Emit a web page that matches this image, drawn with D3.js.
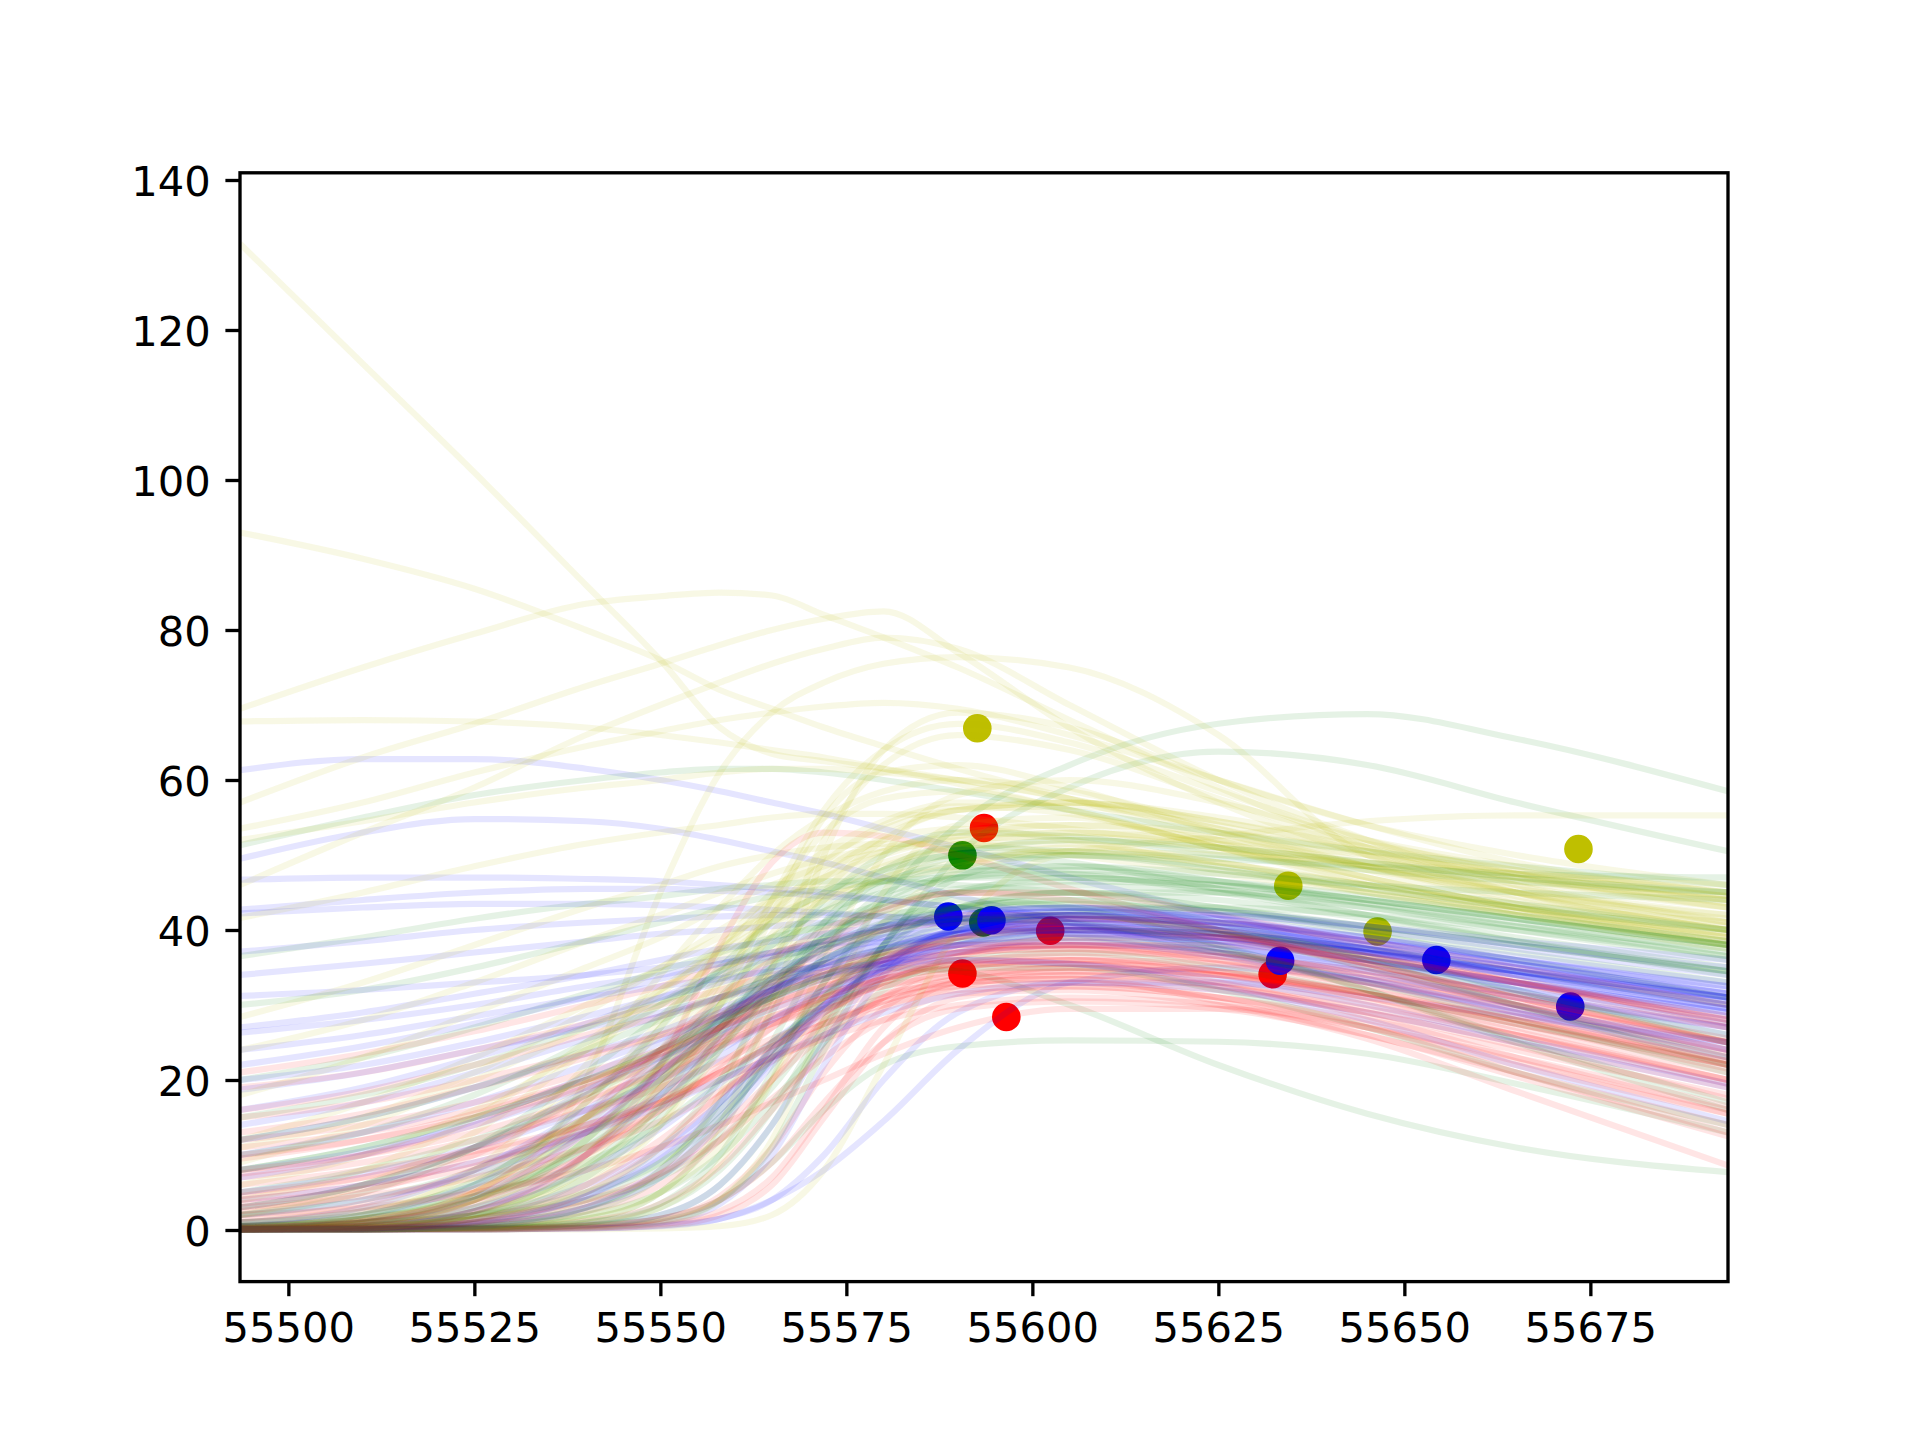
<!DOCTYPE html>
<html><head><meta charset="utf-8">
<script src="https://cdn.jsdelivr.net/npm/d3@7"></script>
<style>html,body{margin:0;padding:0;background:#fff;} svg{display:block;}</style>
</head><body>
<script>
// Shared sample days (MJD) for every model curve
const sampleDays = [55493.5, 55510, 55525, 55540, 55550, 55558, 55565, 55572, 55580, 55590, 55605, 55625, 55645, 55665, 55693.5];

const xTicks = [55500, 55525, 55550, 55575, 55600, 55625, 55650, 55675];
const yTicks = [0, 20, 40, 60, 80, 100, 120, 140];

// Observations per band
const redObsDays   = [55590.6, 55593.5, 55596.5, 55602.4, 55632.3];
const redObsFlux   = [34.2, 53.6, 28.4, 39.9, 34.1];
const blueObsDays  = [55588.7, 55594.5, 55633.3, 55654.3, 55672.3];
const blueObsFlux  = [41.8, 41.3, 35.9, 36.0, 29.8];
const greenObsDays = [55590.6, 55593.4];
const greenObsFlux = [49.96, 41.0];
const yellowObsDays = [55592.6, 55634.4, 55646.4, 55673.4];
const yellowObsFlux = [66.9, 45.9, 39.8, 50.8];

// Model curve samples (flux at sampleDays)
const redCurves = [
  [21, 23.5, 26.5, 30, 32.5, 35, 37, 38.5, 40, 41, 41.5, 40, 37, 33, 27],
  [19, 21, 24, 27.5, 30, 32, 34, 35.5, 37, 38, 38.5, 37, 34, 30, 24],
  [16, 18.5, 22, 26, 28.5, 31, 33, 34.5, 36, 37.5, 38, 36.5, 33.5, 29.5, 23.5],
  [13, 15.5, 19, 23, 26, 29, 31.5, 33.5, 35.5, 37, 37.5, 36, 33, 29, 23],
  [11, 13, 16, 20, 23, 26, 28.5, 30.5, 32.5, 34, 35, 34, 31.5, 28, 22.5],
  [9.5, 12, 15.5, 20, 23.5, 27, 30, 32.5, 35, 37, 38, 37, 34, 30.5, 25],
  [7, 9, 12, 16, 19, 22.5, 25.5, 28, 31, 33.5, 35, 34, 31, 27, 21],
  [5, 7, 10, 14, 17.5, 21, 24.5, 27.5, 30.5, 33, 34.5, 34, 31.5, 28, 22],
  [3, 4.5, 7, 11, 14.5, 18.5, 22.5, 26, 29.5, 32.5, 34, 33, 30, 26, 20],
  [0.1, 0.2, 0.7, 2.5, 6, 12, 20, 28, 34, 37, 37.5, 35.5, 32, 28, 22],
  [0.1, 0.1, 0.2, 0.6, 1.5, 4.5, 11, 21, 29.5, 33.5, 34, 32.5, 29.5, 26, 20],
  [0.1, 0.1, 0.1, 0.2, 0.6, 2, 6, 15, 25, 31, 32.5, 31, 28, 24, 18],
  [0.2, 0.6, 2.5, 10, 22, 38, 49, 53, 52.5, 50, 45.5, 40, 35.5, 31, 25.5],
  [0.3, 1, 3.5, 10, 17, 25, 32, 38, 42.5, 45, 45, 42, 38, 33.5, 27.5],
  [1, 2.5, 5.5, 11, 16, 21.5, 27, 32, 36, 39, 40.5, 39, 35.5, 31, 25],
  [0.1, 0.1, 0.3, 1.2, 3.5, 8.5, 16, 24, 31, 35, 36, 34, 30.5, 26, 19.5],
  [4, 6, 9, 13.5, 17, 21, 24.5, 27.5, 30, 32, 32.5, 31, 27.5, 22.5, 15.5],
  [2, 3, 5, 8, 11, 14, 17, 20, 23.5, 27, 29.5, 29.5, 27, 23, 16.5],
  [0.1, 0.1, 0.2, 0.5, 1.5, 4, 9, 17, 25, 29.5, 30.5, 29.5, 26, 20.5, 12.5],
  [6, 8, 10.5, 14, 17, 20, 23, 25.5, 28, 30, 31, 30, 27, 21, 13],
  [0.2, 0.5, 1.5, 4, 7.5, 12, 17.5, 23, 28, 31.5, 32, 30, 25.5, 18.5, 8.6],
  [12, 14, 17, 21, 24, 27, 29.5, 31.5, 33.5, 35, 36, 35.5, 33, 30, 25],
  [8, 10, 13, 17.5, 21, 24.5, 27.5, 30, 32.5, 34.5, 35.5, 34.5, 31.5, 27.5, 21.5],
  [0.1, 0.3, 1, 3.5, 7.5, 13.5, 20, 26, 31, 34, 34.5, 32.5, 29, 24.5, 17.5],
  [15, 17, 20, 23.5, 26, 28.5, 30.5, 32.5, 34.5, 36.5, 38, 38, 36, 33, 28.5],
  [3.5, 5.5, 8.5, 13, 17, 21, 25, 29, 33, 36.5, 39, 39, 36.5, 33, 28],
  [0.1, 0.1, 0.1, 0.3, 0.8, 2.5, 7, 16, 27, 33, 33.5, 30.5, 26, 21, 14],
  [10, 12, 15, 19, 22, 25, 27.5, 29.5, 31.5, 33, 33.5, 32, 29, 25, 19],
  [0.5, 1.5, 4, 10, 16, 22, 27, 31, 34, 36, 36.5, 34.5, 31, 26.5, 20],
  [1.5, 3.5, 8, 15, 20, 24.5, 28, 31, 33.5, 35.5, 36, 34.5, 31.5, 27.5, 22],
  [0.2, 1, 4, 13, 21, 27, 31, 34, 36.5, 38, 38, 36, 32.5, 28.5, 22.5],
  [0.1, 0.5, 2.5, 10, 19, 27, 33, 37, 40, 42, 42, 39.5, 35.5, 31, 25],
  [4.5, 7, 11, 17, 21.5, 25.5, 28.5, 31, 33.5, 35.5, 37, 36.5, 34.5, 31.5, 27],
  [0.3, 1.2, 5, 15, 24, 31, 36, 40, 43, 45, 44, 40, 35, 30, 24],
  [2.5, 5, 10, 18, 24, 28.5, 32, 34.5, 37, 39, 40, 39, 36.5, 33, 28],
  [0.1, 0.3, 1.5, 6, 12, 18, 23, 27, 30.5, 32.5, 33, 31, 27, 22, 15.5],
  [7.5, 10, 14, 19.5, 23.5, 27, 30, 33, 36, 39, 41.5, 41, 38.5, 35, 30],
  [0.1, 0.2, 1, 5, 11, 18, 24, 29, 33, 35.5, 35.5, 33, 28.5, 23, 16]
];

const blueCurves = [
  [61.3, 62.8, 62.8, 61.5, 60, 58.5, 57, 55.5, 53.5, 51, 47, 42, 37, 32, 26],
  [49.5, 53, 54.8, 54.5, 53.5, 52, 50.5, 49, 47, 44.5, 41, 37, 33, 29, 24],
  [46.7, 47, 47, 46.8, 46.5, 46, 45.5, 45, 44, 43, 41, 38, 35, 32, 27.5],
  [42.7, 44, 45, 45.5, 45.5, 45.2, 45, 44.5, 44, 43, 41.5, 39, 36, 33, 29],
  [42.2, 43, 43.5, 43.5, 43.3, 43, 42.7, 42.3, 41.8, 41, 39.5, 37, 34.5, 31.5, 27],
  [37.1, 38.5, 40, 41, 41.5, 41.8, 42, 42, 41.8, 41.5, 40.5, 38.5, 36, 33, 28.5],
  [34, 35.5, 37, 38.5, 39.5, 40, 40.5, 41, 41, 41, 40.5, 39, 37, 34.5, 31],
  [31.2, 32, 33, 34, 35, 36, 37, 38, 39, 40, 40, 38.5, 36, 33, 29],
  [26.3, 28, 30, 32.5, 34, 35.5, 36.5, 37.5, 38.5, 39.5, 40, 39, 37, 34.5, 31],
  [18.7, 21, 24, 27, 29, 31, 32.5, 34, 35.5, 37, 38, 37.5, 35.5, 33, 29.5],
  [10, 13, 17, 22, 25.5, 28.5, 31, 33.5, 36, 38.5, 40, 39.5, 37.5, 35, 31.5],
  [5, 7.5, 11, 16, 20, 24, 28, 31.5, 35, 38, 40, 39.5, 37.5, 35, 31],
  [0.2, 0.6, 2, 6, 11, 17, 24, 30, 35, 39, 40.5, 39.5, 37, 34, 30],
  [0.1, 0.1, 0.2, 0.7, 2, 6, 14, 25, 35, 40, 41, 39.5, 37, 34, 30.5],
  [0.1, 0.1, 0.1, 0.2, 0.5, 1.5, 4, 10, 20, 29, 33, 33, 31, 28.5, 25],
  [0.1, 0.1, 0.1, 0.2, 0.6, 1.5, 4, 8, 14.5, 24, 33, 35, 33.5, 31, 27],
  [0.1, 0.1, 0.1, 0.3, 1, 3.5, 10, 22, 34, 40, 41.5, 40, 37.5, 34.5, 30.5],
  [2, 4, 7.5, 13, 18, 23, 28, 32, 36, 39.5, 41.5, 41, 38.5, 35.5, 31.5],
  [14, 17, 21, 25.5, 28.5, 31, 33.5, 35.5, 37.5, 39.5, 41, 40.5, 38.5, 36, 32.5],
  [22, 24.5, 27.5, 31, 33.5, 35.5, 37, 38.5, 40, 41.5, 42.5, 42, 40.5, 38.5, 36],
  [8, 10.5, 14, 19, 23, 26.5, 29.5, 32, 34.5, 37, 39, 38.5, 36, 32.5, 28],
  [0.3, 1, 3, 8, 13.5, 19.5, 25, 30, 34.5, 38, 39.5, 38, 34.5, 30, 24],
  [0.1, 0.2, 0.8, 3, 7, 14, 22, 30, 36, 39.5, 40, 37.5, 33.5, 29, 23],
  [24, 26, 28.5, 31, 32.5, 33.5, 34.5, 35, 35.5, 36, 35.5, 33.5, 30, 25.5, 19.5],
  [4, 6, 9, 13, 16.5, 20, 23, 26, 29, 31.5, 33, 32, 29, 25, 19],
  [0.1, 0.3, 1.2, 4.5, 9.5, 16, 23, 29, 33.5, 36, 35.5, 32.5, 28, 22, 14.5],
  [12, 15, 19, 23.5, 26.5, 29.5, 32, 34, 36, 38, 39.5, 39, 37, 34.5, 31],
  [16, 19, 23, 27.5, 31, 34, 36.5, 38.5, 40.5, 42, 43, 42.5, 40.5, 38, 35],
  [0.5, 2, 6, 14, 21, 27, 32, 35.5, 38.5, 41, 42, 40.5, 37.5, 34, 29.5],
  [0.1, 0.4, 2.5, 10, 18, 25.5, 31.5, 36, 39.5, 42, 43, 41.5, 38.5, 35.5, 31],
  [3, 6, 11, 18.5, 24, 28.5, 32, 35, 37.5, 40, 41.5, 41, 39, 36, 32.5],
  [0.2, 1, 4.5, 13, 21, 28, 33.5, 37.5, 40.5, 42.5, 43, 41, 38, 34.5, 30],
  [7, 10, 14.5, 20.5, 25, 29, 32, 35, 37.5, 40, 42, 42, 40, 37.5, 34],
  [0.1, 0.1, 0.5, 3, 8, 15, 22.5, 29.5, 35.5, 40, 42, 40.5, 37.5, 34, 29.5],
  [27, 29, 31.5, 34, 36, 37.5, 38.5, 39.5, 40.5, 41.5, 42, 41, 39, 36.5, 33],
  [1, 3, 8, 16, 22.5, 28, 32.5, 36, 39, 41.5, 42.5, 41.5, 39, 36, 32],
  [0.1, 0.2, 1, 4.5, 10, 17, 24, 30, 35, 38, 38.5, 36.5, 33, 29.5, 25],
  [20, 22, 25, 28.5, 31, 33, 35, 36.5, 38, 39.5, 40.5, 40, 38, 35.5, 31.5]
];

const greenCurves = [
  [0.5, 1, 2, 5, 9, 15, 23, 33, 44, 54, 62, 67.5, 68.8, 65.5, 58.5],
  [0.5, 1, 2, 4, 7, 12, 19, 28, 38, 50, 59, 63.8, 62, 57, 50.5],
  [0.1, 0.1, 0.2, 0.6, 1.5, 4, 9, 16, 22, 24.5, 25.3, 25.1, 23.5, 19.5, 13],
  [8, 11, 15, 20, 24, 28, 31, 33.5, 35, 34.5, 30, 22, 15.5, 11, 7.7],
  [51.3, 55, 58, 60, 61, 61.5, 61.5, 61, 60, 58.5, 56, 53, 50.5, 48.5, 46],
  [36.5, 39, 41.5, 43.5, 44.5, 45.5, 46, 46.5, 46.5, 46, 45, 43, 40, 37, 33],
  [0.1, 0.2, 0.8, 3, 8, 17, 29, 40, 47, 50, 49, 45.5, 42, 38.5, 34],
  [0.1, 0.1, 0.3, 1.5, 5, 13, 25, 37, 45, 48, 47.5, 45, 42, 39, 35],
  [0.3, 1.2, 4, 11, 19, 27, 34, 39, 43, 45, 45, 43, 40.5, 38, 34.5],
  [2, 4, 8, 15, 21, 27, 32, 36, 40, 43, 45, 45, 43.5, 41, 37],
  [0.1, 0.1, 0.2, 0.6, 2, 6, 14, 26, 38, 45, 47, 45.5, 43, 40, 36],
  [5, 8, 12, 18, 23, 27.5, 31, 34, 37, 40, 42.5, 43, 42, 40, 36.5],
  [0.2, 0.6, 2.5, 8, 16, 26, 36, 44, 50, 53, 52.5, 50, 48, 46.5, 45],
  [12, 15, 19, 24, 28, 31, 33.5, 35.5, 37.5, 39, 40, 39.5, 37.5, 34.5, 30],
  [0.1, 0.2, 0.5, 2, 5, 10, 17, 25, 32, 36, 37, 35, 31.5, 27.5, 22],
  [1, 2.5, 6, 13, 20, 27, 33, 37.5, 41, 43, 43, 40, 36, 31.5, 26],
  [0.1, 0.1, 0.1, 0.4, 1.2, 4, 11, 24, 38, 47, 50, 48.5, 46, 43.5, 40],
  [3, 6, 11, 18, 24, 30, 35, 39, 42.5, 45, 46, 45, 43, 40.5, 37.5],
  [0.1, 0.3, 1, 4, 9, 16, 24, 31, 37, 41, 42, 39.5, 35, 30, 23],
  [20, 23, 27, 31.5, 34.5, 37, 39, 40.5, 42, 43, 43.5, 42.5, 40.5, 38, 34.5],
  [0.5, 1.5, 4.5, 11, 18, 26, 33, 39, 44, 47.5, 48.5, 47.5, 46, 45, 44],
  [0.1, 0.1, 0.3, 1, 3, 8, 16, 27, 37, 43, 44, 41, 36, 30, 22],
  [8, 11, 15, 20, 24, 28, 31, 34, 36.5, 38.5, 39, 37, 33, 28, 21],
  [0.2, 0.5, 1.5, 5, 11, 20, 31, 41, 48, 51, 50.5, 49.5, 48.5, 47.5, 47],
  [15, 18, 22, 27, 30.5, 33.5, 36, 38, 40, 41.5, 42, 40, 36.5, 32, 25],
  [0.1, 0.1, 0.2, 1, 3.5, 10, 21, 33, 41, 44, 43, 38, 32, 25, 16],
  [1, 2, 4.5, 9, 14, 20, 25, 29.5, 33, 35, 35, 32, 27, 21, 14],
  [0.3, 1.5, 6, 17, 27, 35, 41, 45, 48, 50, 50, 48, 45.5, 43, 40],
  [0.1, 0.5, 3, 12, 22, 31, 38, 43, 46.5, 48.5, 48.5, 46.5, 43.5, 40.5, 36.5],
  [2, 5, 11, 21, 28.5, 34.5, 39, 42.5, 45, 47, 47.5, 46.5, 44.5, 42, 38.5],
  [0.1, 0.2, 1.5, 7, 15, 24, 32, 38.5, 43.5, 47, 48, 46.5, 44, 41.5, 38],
  [30, 32, 35, 38.5, 41, 43, 44.5, 45.5, 46.5, 47, 47, 46, 44, 41.5, 38],
  [0.5, 2, 6.5, 15, 22, 28.5, 33.5, 37.5, 40.5, 43, 44, 42.5, 39.5, 36, 31],
  [0.1, 0.1, 0.4, 2.5, 7, 14.5, 23, 31, 38, 43, 45, 44, 41.5, 38.5, 34.5],
  [10, 13, 18, 25, 30, 34.5, 38, 41, 43.5, 45.5, 46.5, 46, 44, 41.5, 38],
  [0.2, 1, 4, 12, 20, 28, 35, 41, 46, 50, 52, 51, 49, 47, 45],
  [0.1, 0.3, 2, 8.5, 16.5, 24.5, 31, 36, 39.5, 41.5, 41, 37.5, 32, 25.5, 17]
];

const yellowCurves = [
  [131.5, 115.5, 101, 86, 76, 67, 63.5, 62.5, 61.5, 60, 57.5, 53.5, 48.5, 44, 39],
  [93, 89.5, 85.5, 80, 76, 72, 69.5, 67, 64.5, 61.5, 57.5, 52, 47, 43, 38],
  [69.5, 75, 79.5, 83.5, 84.5, 85, 84.6, 82, 79, 75, 68, 59, 51, 45, 40],
  [57, 63, 67.5, 72.5, 75.5, 78, 80, 81.5, 82.5, 77, 67, 57, 50, 45, 40],
  [46, 53, 59, 66, 70, 73, 75.5, 77.5, 79, 77.5, 70, 60, 52, 46, 41],
  [0.5, 1.5, 5, 20, 45, 61, 69, 73, 75.5, 76.4, 75, 66, 50, 46, 41],
  [67.8, 68, 67.8, 67, 66, 65, 64, 63, 61.5, 59.5, 56, 51.5, 47, 43, 38.5],
  [53.5, 57, 61, 64.5, 66.5, 68, 69, 69.8, 70.3, 69.5, 66, 60, 54, 49, 45],
  [52, 54.5, 57, 59, 60, 61, 61.5, 61.5, 61, 60, 57.5, 53, 48.5, 44.5, 40],
  [41.6, 45, 48.5, 51.5, 53, 54, 55, 55.5, 55.5, 55, 53.5, 51, 48.5, 46.5, 44],
  [28.4, 33, 38, 43, 46, 48.5, 50, 51, 51.5, 51.5, 50, 47.5, 45, 42.5, 39.5],
  [12, 17, 23, 30, 35, 39, 42, 44.5, 46.5, 48.5, 50.5, 52.5, 54.5, 55.3, 55.3],
  [0.1, 0.2, 0.8, 3, 8, 18, 35, 52, 62, 66, 64, 57.5, 51, 47, 43],
  [0.1, 0.3, 1.5, 6, 14, 27, 42, 55, 61, 62, 59, 53, 48, 43.5, 39],
  [0.2, 0.8, 3, 10, 20, 32, 44, 53, 57.5, 58.5, 56, 51, 46.5, 42.5, 38],
  [0.1, 0.1, 0.3, 1.5, 5, 14, 30, 50, 64, 69, 67, 60, 54, 50, 46],
  [0.5, 1.5, 5, 14, 24, 34, 42, 48, 52, 53.5, 52, 48.5, 45, 42, 38.5],
  [0.1, 0.1, 0.1, 0.3, 1, 4, 12, 28, 45, 54, 55, 51, 47, 43, 39],
  [1, 3, 7, 15, 22, 30, 37, 42.5, 47, 50, 50.5, 48, 45.5, 43, 40],
  [0.2, 0.5, 2, 7, 14, 24, 35, 45, 52, 56, 57, 54.5, 50.5, 47, 44],
  [0.1, 0.1, 0.2, 0.8, 3, 9, 20, 36, 50, 58, 60, 57, 52, 48.5, 45],
  [3, 6, 11, 19, 26, 33, 39, 44, 48, 51, 52, 50.5, 48, 45, 42],
  [0.1, 0.2, 0.5, 2, 5, 11, 20, 31, 41, 48, 51, 49, 46, 43, 39.5],
  [6, 10, 16, 24, 30, 36, 41, 45, 48.5, 51, 51.5, 49, 46, 43.5, 41],
  [0.1, 0.1, 0.1, 0.1, 0.2, 0.5, 2, 8, 22, 40, 50, 49, 45, 42, 38],
  [18, 23, 29, 35, 39, 43, 46, 48.5, 50.5, 52, 52.5, 51, 49, 47, 44.5],
  [0.3, 1, 4, 12, 22, 33, 42, 49, 54, 56.5, 55.5, 51, 46, 42, 37.5],
  [9, 14, 20, 27, 32, 37, 41, 44, 47, 49, 50.5, 50, 49, 47.5, 46],
  [0.1, 0.4, 2, 8, 17, 30, 44, 56, 64, 67.5, 65, 58.5, 52, 47.5, 43],
  [0.3, 2, 8, 22, 34, 43, 50, 55, 58.5, 60, 58.5, 54, 50, 46.5, 43],
  [0.1, 0.8, 4, 15, 27, 37.5, 45, 50.5, 54.5, 57, 57, 54.5, 51, 48, 45],
  [2, 6, 13, 24, 31.5, 37.5, 42, 46, 49, 51.5, 53, 52, 50, 47.5, 44.5],
  [0.2, 1, 5, 17, 28, 37, 44, 49.5, 53.5, 56, 56.5, 53.5, 49, 45, 40.5],
  [11, 15, 21, 29, 35, 40, 44, 47, 50, 52.5, 54, 53, 50.5, 47.5, 43.5],
  [0.1, 0.3, 2, 9, 19, 30, 39.5, 47, 52.5, 56, 57, 55, 51.5, 48, 44],
  [24, 28, 33, 38.5, 42, 45, 47.5, 49.5, 51, 52.5, 53, 51.5, 48.5, 45.5, 42],
  [4, 8, 15, 25, 32, 38, 43, 47, 50.5, 53, 54, 52, 48.5, 45, 41.5]
];

const bandColors = {r: "#ff0000", b: "#0000ff", g: "#008000", y: "#bfbf00"};

// ---------- drawing ----------
const W = 1920, H = 1440;
const L = 240, R = 1728, T = 172.8, B = 1281.6;
const x = d3.scaleLinear().domain([55493.5, 55693.5]).range([L, R]);
const y = d3.scaleLinear().domain([-6.88, 140.96]).range([B, T]);

const svg = d3.select("body").append("svg").attr("width", W).attr("height", H);
svg.append("rect").attr("width", W).attr("height", H).attr("fill", "#fff");
svg.append("clipPath").attr("id", "plot").append("rect")
  .attr("x", L).attr("y", T).attr("width", R - L).attr("height", B - T);

const plot = svg.append("g").attr("clip-path", "url(#plot)");

// observation points (drawn underneath the model curves)
const obs = [
  {c: "g", d: greenObsDays, f: greenObsFlux},
  {c: "y", d: yellowObsDays, f: yellowObsFlux},
  {c: "r", d: redObsDays, f: redObsFlux},
  {c: "b", d: blueObsDays, f: blueObsFlux}
];
obs.forEach(o => {
  plot.selectAll(null).data(o.d.map((d, i) => [d, o.f[i]])).enter().append("circle")
    .attr("cx", p => x(p[0])).attr("cy", p => y(p[1])).attr("r", 14.3)
    .attr("fill", bandColors[o.c]);
});

// model curves, interleaved by band
const line = d3.line().x((d, i) => x(sampleDays[i])).y(d => y(d)).curve(d3.curveMonotoneX);
const sets = [["r", redCurves], ["b", blueCurves], ["g", greenCurves], ["y", yellowCurves]];
const nMax = d3.max(sets, s => s[1].length);
const all = [];
for (let i = 0; i < nMax; i++) sets.forEach(s => { if (s[1][i]) all.push({c: s[0], v: s[1][i]}); });
plot.selectAll("path.model").data(all).enter().append("path").attr("class", "model")
  .attr("d", d => line(d.v)).attr("fill", "none")
  .attr("stroke", d => bandColors[d.c]).attr("stroke-opacity", 0.1)
  .attr("stroke-width", 6.25).attr("stroke-linejoin", "round");

// axes
const font = "'DejaVu Sans', sans-serif";
const xAxis = svg.append("g").attr("transform", `translate(0,${B})`)
  .call(d3.axisBottom(x).tickValues(xTicks).tickFormat(d3.format("d")).tickSize(14.6).tickPadding(14.6));
const yAxis = svg.append("g").attr("transform", `translate(${L},0)`)
  .call(d3.axisLeft(y).tickValues(yTicks).tickFormat(d3.format("d")).tickSize(14.6).tickPadding(14.6));
[xAxis, yAxis].forEach(a => {
  a.select(".domain").remove();
  a.selectAll(".tick line").attr("stroke", "#000").attr("stroke-width", 3.33);
  a.selectAll(".tick text").attr("fill", "#000").style("font-family", font).style("font-size", "41.67px");
});
xAxis.selectAll(".tick text").attr("dy", "0.74em");
yAxis.selectAll(".tick text").attr("dy", "0.37em");

svg.append("rect").attr("x", L).attr("y", T).attr("width", R - L).attr("height", B - T)
  .attr("fill", "none").attr("stroke", "#000").attr("stroke-width", 3.33);
</script>
</body></html>
